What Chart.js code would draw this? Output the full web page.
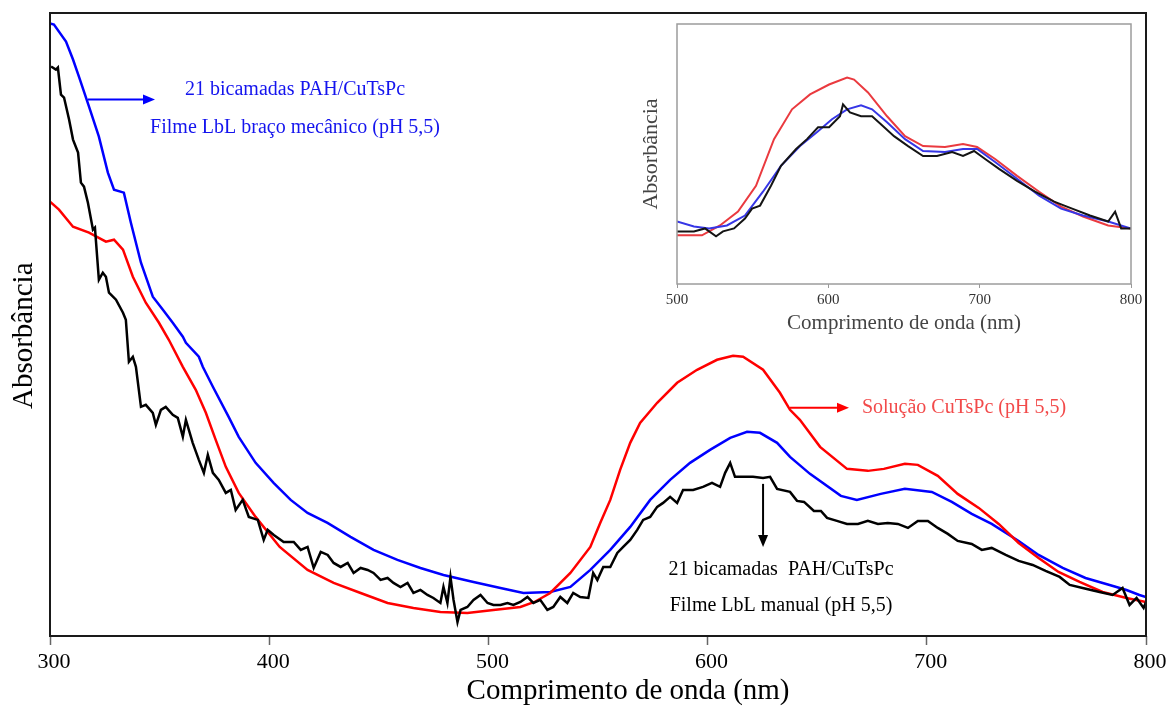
<!DOCTYPE html>
<html>
<head>
<meta charset="utf-8">
<script src="https://cdn.jsdelivr.net/npm/chart.js@4.4.0/dist/chart.umd.min.js"></script>
<style>
  html, body { margin: 0; padding: 0; background: #fff; }
  #wrap { position: relative; width: 1168px; height: 709px; }
  #main { position: absolute; left: 0; top: 0; }
  #inset { position: absolute; left: 620px; top: 18px; }
</style>
</head>
<body>
<div id="wrap">
  <canvas id="main" width="1168" height="709"></canvas>
  <canvas id="inset" width="530" height="320"></canvas>
</div>
<script>
// main spectra (nm, arbitrary absorbance)
const blueNm = [300, 301.8, 307.3, 310.5, 313.2, 317.8, 322.3, 326.4, 329.2, 333.7, 336.9, 341.5, 346.9, 351.5, 356, 360.6, 362, 367.9, 369.7, 374.3, 381.5, 386.1, 393.8, 402, 409.8, 417.5, 426.6, 437.1, 447.6, 458.5, 469, 479.5, 493.2, 505.5, 516, 528.2, 537.4, 546.5, 555.6, 564.7, 573.8, 582.9, 592, 601.1, 610.3, 618, 623.9, 631.7, 637.6, 646.7, 660.8, 668.1, 679, 690, 702.3, 711.4, 720.5, 729.6, 741.9, 751, 762, 772.4, 783.4, 791.1, 797, 800];
const blueAbs = [1.214, 1.212, 1.178, 1.142, 1.108, 1.048, 0.988, 0.916, 0.882, 0.876, 0.816, 0.736, 0.668, 0.642, 0.616, 0.588, 0.576, 0.548, 0.528, 0.488, 0.428, 0.388, 0.336, 0.296, 0.262, 0.236, 0.216, 0.188, 0.162, 0.142, 0.126, 0.112, 0.098, 0.086, 0.076, 0.078, 0.088, 0.122, 0.162, 0.208, 0.262, 0.302, 0.336, 0.362, 0.386, 0.398, 0.396, 0.376, 0.348, 0.314, 0.27, 0.262, 0.274, 0.284, 0.278, 0.258, 0.234, 0.214, 0.18, 0.152, 0.126, 0.106, 0.092, 0.082, 0.072, 0.068];

const redNm = [300, 304.1, 310.5, 317.8, 325.5, 329.2, 333.3, 337.8, 343.7, 349.7, 354.2, 360.6, 366.5, 371.1, 375.6, 380.2, 386.1, 393.8, 404.8, 417.5, 429.4, 441.7, 454, 465.8, 478.1, 490.4, 502.3, 514.6, 521, 528.2, 537.4, 546.5, 551, 555.6, 560.1, 564.7, 569.2, 577, 586.1, 595.2, 604.3, 611.6, 616.2, 625.3, 633, 637.6, 642.1, 651.3, 663.6, 673.1, 680.4, 690, 695.9, 705, 714.1, 723.7, 732.8, 741.9, 751, 760.1, 769.7, 780.2, 791.1, 800];
const redAbs = [0.858, 0.842, 0.808, 0.796, 0.778, 0.782, 0.762, 0.708, 0.656, 0.616, 0.582, 0.528, 0.482, 0.436, 0.382, 0.328, 0.276, 0.228, 0.168, 0.122, 0.096, 0.076, 0.056, 0.046, 0.038, 0.036, 0.042, 0.048, 0.058, 0.076, 0.116, 0.168, 0.216, 0.262, 0.322, 0.376, 0.416, 0.456, 0.496, 0.522, 0.542, 0.55, 0.548, 0.522, 0.476, 0.442, 0.422, 0.368, 0.324, 0.32, 0.324, 0.334, 0.332, 0.31, 0.274, 0.246, 0.214, 0.176, 0.146, 0.118, 0.098, 0.078, 0.066, 0.058];

const blackNm = [300.5, 302.7, 303.6, 305, 306.4, 308.7, 310.5, 312.8, 314.1, 315.5, 317.3, 319.6, 320.5, 322.3, 324.1, 325.5, 326.9, 330.1, 333.3, 334.6, 336, 337.8, 339.2, 341.5, 343.7, 346.9, 348.3, 350.6, 352.8, 356, 358.3, 360.6, 362, 365.1, 367.9, 370.2, 372, 374.3, 377, 380.2, 382.5, 384.7, 387.9, 390.7, 394.8, 397.5, 399.3, 402.1, 406.6, 411.2, 414.4, 417.5, 420.3, 423.5, 426.7, 429.4, 432.6, 435.8, 438.5, 441.7, 444.9, 447.6, 450.8, 454, 456.7, 459.9, 463.1, 465.8, 469, 472.2, 474.9, 478.1, 479.5, 481.3, 482.7, 484.1, 485.9, 487.3, 490.4, 493.2, 496.4, 499.6, 502.3, 505.5, 508.7, 511.4, 514.6, 517.8, 520.5, 523.7, 526.9, 529.6, 532.8, 536, 538.7, 541.9, 545.6, 547.8, 549.7, 552.4, 555.6, 558.8, 561.5, 564.7, 567.9, 570.6, 573.8, 577, 579.7, 582.9, 586.1, 588.8, 593.4, 597.9, 602, 605.7, 608, 610.3, 612.5, 616.2, 620.7, 625.3, 628.5, 631.7, 637.6, 640.8, 644, 648.5, 651.7, 654.5, 659, 663.6, 668.6, 673.1, 677.7, 682.2, 686.8, 691.4, 695.9, 700.5, 705, 709.6, 714.1, 720.5, 725.1, 729.6, 736, 741.9, 748.3, 754.2, 760.6, 765.2, 771.1, 778.8, 784.8, 789.3, 792.5, 795.7, 798.9, 800];
const blackAbs = [1.128, 1.122, 1.126, 1.072, 1.066, 1.022, 0.982, 0.956, 0.896, 0.888, 0.856, 0.802, 0.806, 0.702, 0.716, 0.708, 0.676, 0.662, 0.636, 0.622, 0.538, 0.548, 0.528, 0.448, 0.452, 0.436, 0.412, 0.442, 0.448, 0.432, 0.426, 0.388, 0.422, 0.376, 0.342, 0.316, 0.352, 0.316, 0.302, 0.276, 0.282, 0.242, 0.262, 0.228, 0.222, 0.182, 0.202, 0.192, 0.178, 0.178, 0.162, 0.168, 0.126, 0.158, 0.152, 0.136, 0.128, 0.136, 0.116, 0.126, 0.122, 0.116, 0.102, 0.106, 0.096, 0.088, 0.096, 0.076, 0.082, 0.072, 0.066, 0.056, 0.088, 0.056, 0.108, 0.062, 0.018, 0.042, 0.048, 0.062, 0.072, 0.056, 0.052, 0.052, 0.056, 0.052, 0.058, 0.068, 0.056, 0.062, 0.042, 0.048, 0.068, 0.056, 0.076, 0.068, 0.066, 0.116, 0.102, 0.128, 0.128, 0.156, 0.168, 0.182, 0.202, 0.222, 0.228, 0.248, 0.256, 0.268, 0.256, 0.282, 0.282, 0.288, 0.296, 0.288, 0.316, 0.336, 0.308, 0.308, 0.308, 0.306, 0.308, 0.284, 0.278, 0.26, 0.258, 0.24, 0.24, 0.226, 0.22, 0.214, 0.214, 0.22, 0.214, 0.216, 0.214, 0.206, 0.22, 0.22, 0.206, 0.194, 0.18, 0.174, 0.162, 0.166, 0.152, 0.14, 0.132, 0.12, 0.108, 0.092, 0.086, 0.078, 0.072, 0.086, 0.052, 0.066, 0.046, 0.058];

// inset spectra (500-800 nm)
const insetRedNm = [500, 516.5, 528.4, 540.3, 552.2, 564.1, 576, 587.9, 600.5, 612.4, 617, 626.2, 638.8, 650.7, 662.6, 677.1, 689, 698.3, 710.2, 724.7, 739.3, 753.8, 768.3, 784.9, 800];
const insetRedAbs = [0.192, 0.192, 0.232, 0.288, 0.392, 0.58, 0.7, 0.76, 0.8, 0.828, 0.82, 0.768, 0.672, 0.592, 0.552, 0.548, 0.56, 0.548, 0.5, 0.432, 0.368, 0.308, 0.268, 0.232, 0.22];
const insetBlueNm = [500, 511.2, 521.2, 533, 544.9, 556.8, 568.7, 581.3, 593.2, 602.4, 612.4, 621.6, 628.9, 638.8, 650.7, 662.6, 677.1, 689, 698.3, 710.2, 724.7, 739.3, 753.8, 768.3, 784.9, 800];
const insetBlueAbs = [0.248, 0.228, 0.22, 0.232, 0.272, 0.368, 0.472, 0.552, 0.612, 0.66, 0.7, 0.716, 0.7, 0.648, 0.58, 0.532, 0.528, 0.54, 0.54, 0.488, 0.42, 0.352, 0.3, 0.272, 0.248, 0.22];
const insetBlackNm = [500, 511.2, 518.5, 525.8, 530.4, 537.7, 544.9, 549.6, 554.9, 562.1, 568.7, 578.7, 585.9, 593.2, 600.5, 607.7, 609.7, 614.3, 621.6, 628.9, 636.2, 643.4, 652.7, 662.6, 671.8, 681.8, 689, 696.3, 703.6, 712.8, 724.7, 736.6, 749.2, 761.1, 772.9, 784.9, 789.5, 793.5, 800];
const insetBlackAbs = [0.208, 0.208, 0.22, 0.188, 0.208, 0.22, 0.26, 0.3, 0.312, 0.392, 0.472, 0.54, 0.58, 0.628, 0.628, 0.672, 0.72, 0.688, 0.672, 0.672, 0.632, 0.592, 0.552, 0.512, 0.512, 0.528, 0.512, 0.532, 0.5, 0.46, 0.412, 0.368, 0.328, 0.3, 0.272, 0.248, 0.288, 0.22, 0.22];

const xTicks = [300, 400, 500, 600, 700, 800];
const insetTicks = [500, 600, 700, 800];

const serif = "'Liberation Serif', 'Times New Roman', serif";

function pts(xs, ys) {
  return xs.map((x, i) => ({x: x, y: ys[i]}));
}

const frame = {
  id: 'frame',
  afterDraw(chart, args, opts) {
    const {ctx, chartArea: a} = chart;
    ctx.save();
    ctx.strokeStyle = opts.color;
    ctx.lineWidth = opts.width;
    ctx.strokeRect(a.left, a.top, a.right - a.left, a.bottom - a.top);
    ctx.restore();
  }
};

function arrow(ctx, x1, y1, x2, y2, color, head) {
  const ang = Math.atan2(y2 - y1, x2 - x1);
  ctx.strokeStyle = color;
  ctx.fillStyle = color;
  ctx.lineWidth = 2;
  ctx.beginPath();
  ctx.moveTo(x1, y1);
  ctx.lineTo(x2 - head * Math.cos(ang), y2 - head * Math.sin(ang));
  ctx.stroke();
  ctx.beginPath();
  ctx.moveTo(x2, y2);
  ctx.lineTo(x2 - head * Math.cos(ang) - 5 * Math.sin(ang), y2 - head * Math.sin(ang) + 5 * Math.cos(ang));
  ctx.lineTo(x2 - head * Math.cos(ang) + 5 * Math.sin(ang), y2 - head * Math.sin(ang) - 5 * Math.cos(ang));
  ctx.closePath();
  ctx.fill();
}

// labels and arrows, placed in data units; axis titles sit a little off-centre in the original
const notes = {
  id: 'notes',
  afterDraw(chart) {
    const {ctx, scales: {x, y}} = chart;
    ctx.save();
    ctx.textBaseline = 'middle';

    ctx.font = '29px ' + serif;
    ctx.fillStyle = '#000';
    ctx.textAlign = 'center';
    ctx.fillText('Comprimento de onda (nm)', x.getPixelForValue(563.7), 691);
    ctx.save();
    ctx.translate(24, y.getPixelForValue(0.59));
    ctx.rotate(-Math.PI / 2);
    ctx.fillText('Absorbância', 0, 0);
    ctx.restore();

    ctx.font = '20px ' + serif;
    arrow(ctx, x.getPixelForValue(317.3), y.getPixelForValue(1.062), x.getPixelForValue(347.9), y.getPixelForValue(1.062), '#0000ff', 12);
    ctx.fillStyle = '#1414ee';
    ctx.textAlign = 'center';
    ctx.fillText('21 bicamadas PAH/CuTsPc', x.getPixelForValue(411.8), y.getPixelForValue(1.082));
    ctx.fillText('Filme LbL braço mecânico (pH 5,5)', x.getPixelForValue(411.8), y.getPixelForValue(1.006));

    arrow(ctx, x.getPixelForValue(637.6), y.getPixelForValue(0.446), x.getPixelForValue(664.5), y.getPixelForValue(0.446), '#ff0000', 12);
    ctx.fillStyle = '#f24a4a';
    ctx.textAlign = 'left';
    ctx.fillText('Solução CuTsPc (pH 5,5)', x.getPixelForValue(670.4), y.getPixelForValue(0.446));

    arrow(ctx, x.getPixelForValue(625.3), y.getPixelForValue(0.294), x.getPixelForValue(625.3), y.getPixelForValue(0.168), '#000000', 12);
    ctx.fillStyle = '#000000';
    ctx.textAlign = 'center';
    ctx.fillText('21 bicamadas  PAH/CuTsPc', x.getPixelForValue(633.5), y.getPixelForValue(0.122));
    ctx.fillText('Filme LbL manual (pH 5,5)', x.getPixelForValue(633.5), y.getPixelForValue(0.05));
    ctx.restore();
  }
};

new Chart(document.getElementById('main'), {
  type: 'line',
  data: {
    datasets: [
      { label: 'PAH/CuTsPc manual', data: pts(blackNm, blackAbs), borderColor: '#000000', borderWidth: 2.5 },
      { label: 'Solução CuTsPc', data: pts(redNm, redAbs), borderColor: '#ff0000', borderWidth: 2.5 },
      { label: 'PAH/CuTsPc braço mecânico', data: pts(blueNm, blueAbs), borderColor: '#0000ff', borderWidth: 2.5 }
    ]
  },
  options: {
    responsive: false,
    animation: false,
    events: [],
    parsing: false,
    elements: { point: { radius: 0 }, line: { tension: 0 } },
    layout: { padding: { left: 0, right: 22, top: 13, bottom: 0 } },
    plugins: {
      legend: { display: false },
      tooltip: { enabled: false },
      frame: { color: '#1a1a1a', width: 2 }
    },
    scales: {
      x: {
        type: 'linear',
        min: 300,
        max: 800,
        afterBuildTicks: (s) => { s.ticks = xTicks.map(v => ({value: v})); },
        afterFit: (s) => { s.height = 73; },
        grid: { display: true, drawOnChartArea: false, tickLength: 9, tickColor: '#666', tickWidth: 1.5 },
        border: { display: false },
        ticks: { color: '#000', font: { family: serif, size: 22 }, padding: 4, labelOffset: 4, maxRotation: 0 },
        title: { display: false }
      },
      y: {
        min: -0.01,
        max: 1.235,
        afterFit: (s) => { s.width = 50; },
        grid: { display: false },
        border: { display: false },
        ticks: { display: false },
        title: { display: false }
      }
    }
  },
  plugins: [frame, notes]
});

new Chart(document.getElementById('inset'), {
  type: 'line',
  data: {
    datasets: [
      { label: 'manual', data: pts(insetBlackNm, insetBlackAbs), borderColor: '#141414', borderWidth: 2 },
      { label: 'braço', data: pts(insetBlueNm, insetBlueAbs), borderColor: '#3636e6', borderWidth: 2 },
      { label: 'solução', data: pts(insetRedNm, insetRedAbs), borderColor: '#ea3a3f', borderWidth: 2 }
    ]
  },
  options: {
    responsive: false,
    animation: false,
    events: [],
    parsing: false,
    elements: { point: { radius: 0 }, line: { tension: 0 } },
    layout: { padding: { left: 0, right: 19, top: 6, bottom: 0 } },
    plugins: {
      legend: { display: false },
      tooltip: { enabled: false },
      frame: { color: '#9c9c9c', width: 1.5 }
    },
    scales: {
      x: {
        type: 'linear',
        min: 500,
        max: 800,
        afterBuildTicks: (s) => { s.ticks = insetTicks.map(v => ({value: v})); },
        afterFit: (s) => { s.height = 54; },
        grid: { display: true, drawOnChartArea: false, tickLength: 4, tickColor: '#999' },
        border: { display: false },
        ticks: { color: '#333', font: { family: serif, size: 15 }, padding: 3, maxRotation: 0 },
        title: { display: true, text: 'Comprimento de onda (nm)', color: '#444', font: { family: serif, size: 21 }, padding: { top: 0, bottom: 2 } }
      },
      y: {
        min: -0.004,
        max: 1.044,
        afterFit: (s) => { s.width = 57; },
        grid: { display: false },
        border: { display: false },
        ticks: { display: false },
        title: { display: true, text: 'Absorbância', color: '#444', font: { family: serif, size: 22 }, padding: { top: 18, bottom: 0 } }
      }
    }
  },
  plugins: [frame]
});
</script>
</body>
</html>
